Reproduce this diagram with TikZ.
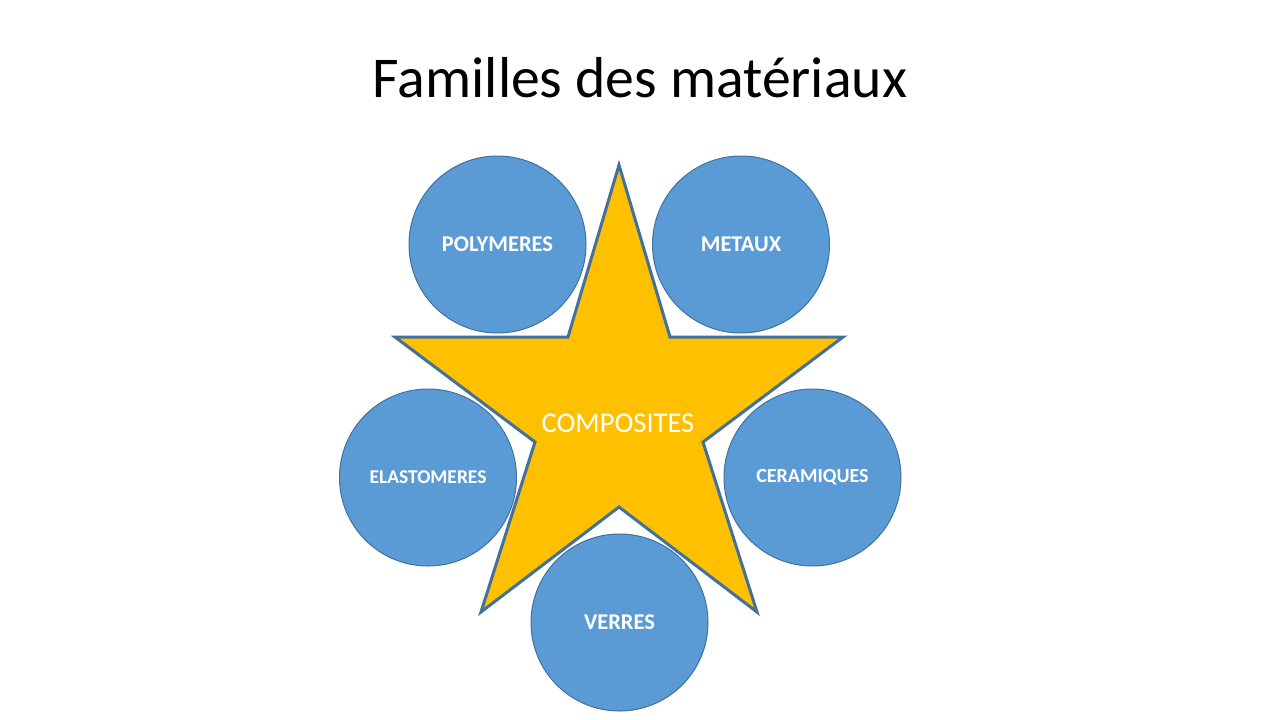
\documentclass[tikz,border=0pt]{standalone}
\usepackage{fontspec}
\setmainfont{Carlito}
\definecolor{circfill}{HTML}{5B9BD5}
\definecolor{circline}{HTML}{41719C}
\definecolor{starfill}{HTML}{FFC000}
\definecolor{starline}{HTML}{41719C}
\tikzset{
  famcircle/.style={circle, fill=circfill, draw=circline, line width=1pt,
    minimum size=177pt, inner sep=0pt, text=white, font=\bfseries\fontsize{22.5}{24}\selectfont},
  smalllabel/.style={font=\bfseries\fontsize{19.5}{22}\selectfont},
}
\begin{document}
\begin{tikzpicture}[x=1pt,y=-1pt]
\useasboundingbox (0,0) rectangle (1280,720);
\fill[white] (0,0) rectangle (1280,720);
\node[anchor=base, font=\fontsize{57.7}{62}\selectfont] (title) at (640,97) {Familles des matériaux};
% star
\coordinate (s1) at (619,165);
\coordinate (s2) at (670,337);
\coordinate (s3) at (843,337);
\coordinate (s4) at (703,442);
\coordinate (s5) at (757,612);
\coordinate (s6) at (619,507);
\coordinate (s7) at (481,612);
\coordinate (s8) at (535,442);
\coordinate (s9) at (395,337);
\coordinate (s10) at (568,337);
\draw[fill=starfill, draw=starline, line width=3pt, line join=miter]
  (s1) -- (s2) -- (s3) -- (s4) -- (s5) -- (s6) -- (s7) -- (s8) -- (s9) -- (s10) -- cycle;
\node[text=white, font=\fontsize{28.5}{30}\selectfont] (comp) at (618,423) {COMPOSITES};
% circles
\node[famcircle] (poly) at (497.5,244.5) {POLYMERES};
\node[famcircle] (meta) at (741,244.5) {METAUX};
\node[famcircle, smalllabel] (elas) at (428,477.5) {ELASTOMERES};
\node[famcircle, smalllabel, font=\bfseries\fontsize{20}{22}\selectfont] (cera) at (812.5,477.5) {CERAMIQUES};
\node[famcircle] (verr) at (619.5,622.5) {VERRES};
\end{tikzpicture}
\end{document}
